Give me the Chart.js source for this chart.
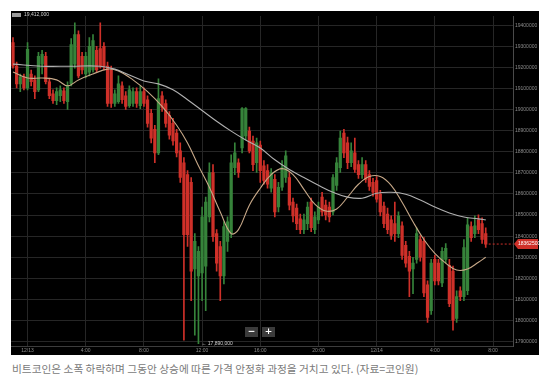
<!DOCTYPE html>
<html>
<head>
<meta charset="utf-8">
<script src="https://cdn.jsdelivr.net/npm/chart.js@4.4.1/dist/chart.umd.min.js"></script>
<style>
body { margin: 0; background: #fff; width: 550px; height: 390px; overflow: hidden; position: relative; }
#box { position: absolute; left: 11px; top: 11px; width: 528px; height: 344px; background: #000; }
#cap { position: absolute; left: 12px; top: 361px; font-family: 'Noto Sans CJK KR', sans-serif; font-size: 10.7px; color: #7a7a7a; white-space: nowrap; }
</style>
</head>
<body>
<div id="box"><canvas id="chart"></canvas></div>
<div id="cap">비트코인은 소폭 하락하며 그동안 상승에 따른 가격 안정화 과정을 거치고 있다. (자료=코인원)</div>
<script>
// 15 minute candles, prices in 1,000 KRW, first candle 12/12 23:00
const opens = [
  19318, 19206, 19122, 19155,
  19103, 19169, 19141, 19094, 19216, 19253, 19132, 19075, 19043, 19066, 19089, 19038, 19122, 19216, 19356, 19253,
  19169, 19178, 19188, 19281, 19290, 19300, 19206, 19188, 19029, 19038, 19113, 19066, 19019, 19029, 19085, 19019,
  19085, 19047, 18982, 18907, 18795, 19066, 19029, 18973, 18935, 18889, 18804, 18748, 18692, 18655, 18244, 18211,
  18225, 18258, 18491, 18702, 18412, 18351, 18211, 18375, 18412, 18725, 18748, 18818, 18875, 18898, 18851, 18748,
  18832, 18734, 18711, 18627, 18669, 18538, 18632, 18678, 18678, 18561, 18533, 18482, 18431, 18459, 18561, 18431,
  18477, 18585, 18547, 18538, 18515, 18641, 18725, 18889, 18842, 18748, 18795, 18739, 18692, 18739, 18692, 18655,
  18664, 18599, 18543, 18505, 18477, 18459, 18412, 18449, 18356, 18304, 18244, 18290, 18384, 18375, 18169, 18047,
  18290, 18272, 18178, 18290, 18262, 18234, 18010, 18141, 18113, 18141, 18445, 18412, 18477, 18459, 18412
];
const highs = [
  19342, 19225, 19169, 19169,
  19318, 19188, 19160, 19272, 19281, 19272, 19150, 19094, 19103, 19113, 19103, 19132, 19337, 19412, 19374, 19272,
  19272, 19342, 19356, 19300, 19412, 19318, 19225, 19206, 19094, 19160, 19132, 19085, 19113, 19103, 19103, 19113,
  19103, 19066, 19001, 18926, 19146, 19085, 19047, 18991, 18959, 18907, 18842, 18772, 18711, 18678, 18412, 18351,
  18538, 18585, 18748, 18739, 18431, 18375, 18468, 18491, 18786, 18842, 18767, 19010, 19010, 18917, 18875, 18865,
  18851, 18758, 18739, 18720, 18692, 18655, 18758, 18804, 18702, 18580, 18552, 18505, 18505, 18561, 18580, 18515,
  18561, 18608, 18571, 18561, 18692, 18772, 18898, 18907, 18870, 18842, 18865, 18758, 18772, 18758, 18711, 18674,
  18683, 18617, 18561, 18533, 18496, 18561, 18515, 18468, 18375, 18328, 18300, 18440, 18403, 18393, 18188, 18290,
  18309, 18290, 18346, 18365, 18290, 18258, 18141, 18160, 18384, 18487, 18468, 18496, 18501, 18487, 18440
];
const lows = [
  19197, 19103, 19085, 19094,
  19094, 19113, 19052, 19085, 19169, 19122, 19052, 19029, 19024, 19038, 19029, 19001, 19113, 19197, 19150, 19169,
  19150, 19160, 19178, 19178, 19197, 19188, 19015, 19010, 19015, 19029, 19029, 19001, 19010, 19015, 19010, 19005,
  19015, 18917, 18842, 18748, 18786, 18991, 18917, 18860, 18832, 18776, 18655, 17907, 18351, 18094, 17930, 17890,
  18094, 18047, 18468, 18375, 18234, 18094, 18174, 18328, 18393, 18692, 18678, 18795, 18856, 18795, 18711, 18702,
  18655, 18646, 18627, 18608, 18491, 18515, 18617, 18655, 18524, 18468, 18431, 18412, 18412, 18431, 18421, 18412,
  18459, 18496, 18477, 18468, 18501, 18617, 18702, 18772, 18720, 18730, 18702, 18674, 18674, 18655, 18617, 18589,
  18561, 18496, 18440, 18412, 18384, 18375, 18393, 18290, 18253, 18113, 18127, 18272, 18281, 18113, 17991, 18029,
  18169, 18169, 18160, 18272, 18066, 17954, 17991, 18094, 18094, 18122, 18375, 18393, 18412, 18365, 18346
];
const closes = [
  19206, 19122, 19155, 19103,
  19286, 19132, 19085, 19253, 19262, 19132, 19066, 19043, 19085, 19094, 19043, 19113, 19309, 19356, 19160, 19188,
  19253, 19300, 19328, 19188, 19206, 19206, 19029, 19029, 19075, 19122, 19047, 19015, 19094, 19085, 19029, 19085,
  19029, 18935, 18865, 18795, 19052, 19010, 18935, 18879, 18851, 18795, 18678, 18407, 18407, 18234, 18375, 18328,
  18491, 18561, 18702, 18398, 18272, 18211, 18445, 18468, 18748, 18795, 18702, 19005, 19005, 18804, 18739, 18842,
  18711, 18664, 18646, 18702, 18515, 18632, 18725, 18781, 18547, 18496, 18459, 18431, 18477, 18538, 18440, 18491,
  18538, 18515, 18501, 18491, 18678, 18748, 18865, 18795, 18748, 18804, 18716, 18692, 18739, 18669, 18636, 18608,
  18575, 18515, 18459, 18431, 18403, 18412, 18496, 18309, 18272, 18234, 18272, 18412, 18300, 18131, 18015, 18272,
  18188, 18188, 18328, 18342, 18080, 18001, 18113, 18113, 18346, 18454, 18393, 18449, 18431, 18384, 18362.5
];

// moving averages: [candle index, value]
const maSlow = [
  [0, 19216], [8, 19206], [16, 19206], [24, 19206], [28, 19192], [32, 19164], [36, 19136], [40, 19122],
  [44, 19094], [48, 19047], [52, 18996], [56, 18945], [60, 18898], [64, 18856], [68, 18818], [72, 18762],
  [76, 18716], [80, 18678], [84, 18641], [88, 18608], [92, 18585], [96, 18580], [100, 18603], [104, 18608],
  [108, 18599], [112, 18571], [116, 18538], [120, 18510], [124, 18491], [128, 18482], [130, 18477]
];
const maFast = [
  [0, 19178], [4, 19150], [8, 19150], [12, 19141], [15, 19113], [18, 19141], [22, 19169], [26, 19192],
  [29, 19183], [33, 19141], [37, 19085], [41, 19015], [45, 18926], [48, 18842], [51, 18734], [54, 18632],
  [57, 18515], [60, 18412], [62, 18431], [65, 18547], [68, 18627], [71, 18692], [74, 18720], [77, 18692],
  [80, 18622], [83, 18552], [86, 18519], [89, 18529], [92, 18585], [95, 18646], [98, 18683], [101, 18683],
  [104, 18641], [107, 18561], [110, 18468], [113, 18384], [116, 18318], [119, 18272], [122, 18239],
  [125, 18244], [128, 18276], [130, 18300]
];

const yTicks = [17900, 18000, 18100, 18200, 18300, 18400, 18500, 18600, 18700,
  18800, 18900, 19000, 19100, 19200, 19300, 19400];

const NUM_SLOTS = 138;
let categories = [];
for (let k = 0; k < NUM_SLOTS; k++) {
  const m = 23 * 60 + k * 15;
  const day = 12 + Math.floor(m / 1440);
  const h = Math.floor((m % 1440) / 60);
  const mm = m % 60;
  categories.push('12/' + day + ' ' + h + ':' + (mm < 10 ? '0' + mm : mm));
}

function tickText(i) {
  const parts = categories[i].split(' ');
  const hm = parts[1].split(':');
  const h = +hm[0];
  if (hm[1] !== '00' || h % 4 !== 0) return '';
  return h === 0 ? parts[0] : h + ':00';
}

function sparse(pairs) {
  let arr = new Array(NUM_SLOTS).fill(null);
  pairs.forEach(p => { arr[p[0]] = p[1]; });
  return arr;
}

const RED = '#cf3029';
const GREEN = '#36833a';
let colors = closes.map((c, i) => c >= opens[i] ? GREEN : RED);
let wicks = lows.map((l, i) => [l, highs[i]]);
let bodies = opens.map((o, i) => [o, closes[i]]);

const extras = {
  id: 'extras',
  afterDraw(chart) {
    const ctx = chart.ctx;
    const area = chart.chartArea;
    const x = chart.scales.x, y = chart.scales.y;
    ctx.save();

    // last price line + tag
    const n = closes.length - 1;
    const last = closes[n];
    const py = y.getPixelForValue(last);
    ctx.strokeStyle = RED;
    ctx.lineWidth = 1;
    ctx.setLineDash([2, 2]);
    ctx.beginPath();
    ctx.moveTo(x.getPixelForValue(n) + 3, py);
    ctx.lineTo(area.right, py);
    ctx.stroke();
    ctx.setLineDash([]);
    ctx.fillStyle = RED;
    ctx.beginPath();
    ctx.moveTo(area.right + 1, py);
    ctx.lineTo(area.right + 5, py - 5);
    ctx.lineTo(chart.width - 1, py - 5);
    ctx.lineTo(chart.width - 1, py + 5);
    ctx.lineTo(area.right + 5, py + 5);
    ctx.closePath();
    ctx.fill();
    ctx.fillStyle = '#fff';
    ctx.font = '5px "Liberation Sans"';
    ctx.textBaseline = 'middle';
    ctx.textAlign = 'left';
    ctx.fillText(String(Math.round(last * 1000)), area.right + 5, py);

    // low marker
    let lo = 0;
    lows.forEach((v, i) => { if (v < lows[lo]) lo = i; });
    ctx.fillStyle = '#cfcfcf';
    ctx.fillText('\u2190 ' + (lows[lo] * 1000).toLocaleString('en-US'),
      x.getPixelForValue(lo) + 3, y.getPixelForValue(lows[lo]));

    // high marker, top left
    let hi = 0;
    highs.forEach((v, i) => { if (v > highs[hi]) hi = i; });
    ctx.fillStyle = '#9a9a9a';
    ctx.fillRect(1, 2, 9, 4);
    ctx.fillStyle = '#cfcfcf';
    ctx.fillText((highs[hi] * 1000).toLocaleString('en-US'), 13, 4);

    // zoom buttons
    ctx.fillStyle = '#3b3b3b';
    ctx.fillRect(234, 316, 13, 10);
    ctx.fillRect(251, 316, 13, 10);
    ctx.fillStyle = '#fff';
    ctx.font = 'bold 9px "DejaVu Sans"';
    ctx.textAlign = 'center';
    ctx.fillText('\u2212', 240.5, 321);
    ctx.fillText('+', 257.5, 321);
    ctx.restore();
  }
};

const chart = new Chart(document.getElementById('chart'), {
  type: 'bar',
  data: {
    labels: categories,
    datasets: [
      { type: 'line', data: sparse(maSlow), borderColor: '#b0b0b0', borderWidth: 1.1,
        pointRadius: 0, spanGaps: true, tension: 0.4, order: 0 },
      { type: 'line', data: sparse(maFast), borderColor: '#c7a888', borderWidth: 1.1,
        pointRadius: 0, spanGaps: true, tension: 0.4, order: 0 },
      { data: bodies, backgroundColor: colors, barThickness: 2.6, grouped: false, order: 1 },
      { data: wicks, backgroundColor: colors, barThickness: 1, grouped: false, order: 2 }
    ]
  },
  options: {
    responsive: true,
    maintainAspectRatio: false,
    animation: false,
    layout: { padding: 0 },
    plugins: { legend: { display: false }, tooltip: { enabled: false } },
    scales: {
      x: {
        offset: true,
        grid: { offset: false, drawTicks: false,
          color: c => tickText(c.index) ? '#262626' : 'rgba(0,0,0,0)' },
        border: { color: '#3c3c3c' },
        ticks: { autoSkip: false, maxRotation: 0, color: '#8c8c8c', padding: 2,
          font: { size: 5, family: 'Liberation Sans' },
          callback: (v, i) => tickText(i) },
        afterFit: s => { s.height = 9; }
      },
      y: {
        position: 'right',
        min: 17879,
        max: 19444,
        afterBuildTicks: s => { s.ticks = yTicks.map(v => ({ value: v })); },
        grid: { color: '#262626', drawTicks: false },
        border: { color: '#4a4a4a' },
        ticks: { color: '#8c8c8c', padding: 2, font: { size: 5, family: 'Liberation Sans' },
          callback: v => String(v * 1000) },
        afterFit: s => { s.width = 26; }
      }
    }
  },
  plugins: [extras]
});
</script>
</body>
</html>
